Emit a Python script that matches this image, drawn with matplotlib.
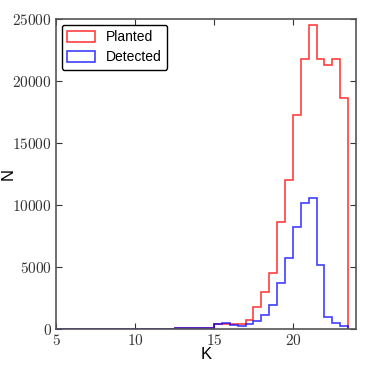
import numpy as np
import matplotlib
matplotlib.use("Agg")
import matplotlib.pyplot as plt
from matplotlib.ticker import FuncFormatter

# K magnitude bins (width 0.5) and counts per bin
k_edges = np.arange(5.0, 23.51, 0.5)

planted = [0, 0, 0, 0, 0, 0, 5, 5, 10, 10,
           15, 20, 25, 30, 40, 50, 60, 70, 90, 110,
           380, 440, 400, 400, 730, 1800, 2960, 4510, 8600, 12000,
           17300, 21750, 24550, 21750, 21300, 21750, 18600]

detected = [0, 0, 0, 0, 0, 0, 5, 5, 10, 10,
            15, 20, 25, 30, 40, 50, 60, 70, 90, 110,
            400, 460, 320, 220, 400, 670, 1100, 1940, 3730, 5750,
            8200, 10150, 10550, 5130, 940, 460, 240]

plt.rcParams['mathtext.fontset'] = 'cm'
plt.rcParams['font.family'] = ['Liberation Sans', 'DejaVu Sans']

centers = (k_edges[:-1] + k_edges[1:]) / 2

fig = plt.figure(figsize=(3.74, 3.74), dpi=100)
ax = fig.add_axes([0.150, 0.120, 0.802, 0.829])

ax.hist(centers, bins=k_edges, weights=planted, histtype='step',
        color='red', alpha=0.75, linewidth=1.2, label='Planted')
ax.hist(centers, bins=k_edges, weights=detected, histtype='step',
        color='blue', alpha=0.75, linewidth=1.2, label='Detected')

ax.set_xlim(5, 24)
ax.set_ylim(0, 25000)
ax.set_xticks([5, 10, 15, 20])
ax.set_yticks([0, 5000, 10000, 15000, 20000, 25000])

fmt = FuncFormatter(lambda v, p: r'$%g$' % v)
ax.xaxis.set_major_formatter(fmt)
ax.yaxis.set_major_formatter(fmt)
ax.tick_params(direction='in', top=True, right=True, length=4,
               width=0.8, labelsize=11, colors='#333333', pad=3)
for s in ax.spines.values():
    s.set_color('#555555')
    s.set_linewidth(1.2)

ax.set_xlabel('K', fontsize=12)
ax.set_ylabel('N', fontsize=12)
ax.xaxis.set_label_coords(0.5, -0.058)
ax.yaxis.set_label_coords(-0.135, 0.5)

leg = ax.legend(loc='upper left', fontsize=10, fancybox=True,
                framealpha=1, edgecolor='black', handlelength=2.0,
                handleheight=0.9, labelspacing=0.45, borderaxespad=0.4)
leg.get_frame().set_linewidth(1.0)

fig.savefig('out.png', dpi=100)
